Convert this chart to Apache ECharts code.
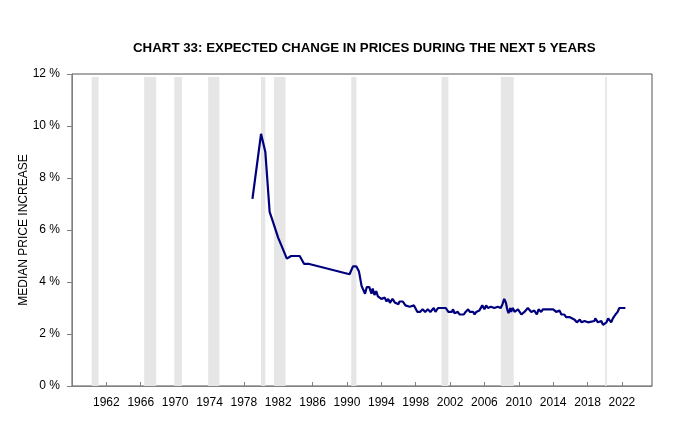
<!DOCTYPE html>
<html>
<head>
<meta charset="utf-8">
<script src="https://cdn.jsdelivr.net/npm/echarts@6/dist/echarts.min.js"></script>
<style>
  html, body { margin: 0; padding: 0; background: #fff; }
  #chart { width: 680px; height: 437px; }
</style>
</head>
<body>
<div id="chart"></div>
<script>
// survey dates (decimal years) and median expected price increase, %
var dates = [
  1979.0, 1980.0, 1980.5, 1981.0, 1981.4, 1982.0, 1982.5, 1983.0, 1983.5, 1984.5,
  1985.0, 1985.5, 1990.3, 1990.7, 1991.1, 1991.4, 1991.7, 1992.1, 1992.3, 1992.6,
  1992.85, 1993.0, 1993.2, 1993.4, 1993.6, 1993.8, 1994.0, 1994.4, 1994.6, 1994.8,
  1995.0, 1995.2, 1995.3, 1995.6, 1996.0, 1996.1, 1996.5, 1996.8, 1997.0, 1997.3,
  1997.8, 1998.2, 1998.5, 1998.8, 1999.1, 1999.4, 1999.7, 2000.1, 2000.3, 2000.6,
  2001.5, 2001.8, 2002.2, 2002.35, 2002.5, 2002.7, 2002.9, 2003.1, 2003.6, 2003.8,
  2004.1, 2004.3, 2004.7, 2004.85, 2005.05, 2005.4, 2005.75, 2006.0, 2006.2, 2006.4,
  2006.75, 2007.15, 2007.55, 2007.9, 2008.1, 2008.3, 2008.5, 2008.65, 2008.8, 2009.0,
  2009.1, 2009.3, 2009.5, 2009.9, 2010.1, 2010.3, 2010.65, 2011.05, 2011.45, 2011.8,
  2012.1, 2012.3, 2012.6, 2012.8, 2014.0, 2014.35, 2014.75, 2014.95, 2015.3, 2015.5,
  2015.9, 2016.5, 2016.75, 2017.1, 2017.3, 2017.65, 2018.05, 2018.2, 2018.8, 2018.9,
  2019.2, 2019.6, 2019.8, 2020.0, 2020.2, 2020.4, 2020.55, 2020.75, 2020.95, 2021.25,
  2021.5, 2021.7, 2022.4
];
var expected = [
  7.2, 9.7, 9.0, 6.7, 6.3, 5.7, 5.3, 4.9, 5.0, 5.0,
  4.7, 4.7, 4.3, 4.6, 4.6, 4.4, 3.85, 3.55, 3.8, 3.8,
  3.55, 3.75, 3.5, 3.65, 3.45, 3.5, 3.35, 3.4, 3.25, 3.35,
  3.2, 3.2, 3.35, 3.2, 3.15, 3.25, 3.25, 3.1, 3.15, 3.05,
  3.1, 2.85, 2.85, 2.95, 2.85, 2.95, 2.85, 3.0, 2.85, 3.0,
  3.0, 2.85, 2.85, 2.95, 2.8, 2.75, 2.85, 2.75, 2.75, 2.85,
  2.95, 2.85, 2.85, 2.75, 2.85, 2.9, 3.1, 2.95, 3.1, 3.0,
  3.05, 3.0, 3.05, 3.0, 3.15, 3.35, 3.2, 2.95, 2.8, 3.0,
  2.85, 3.0, 2.85, 2.95, 2.85, 2.75, 2.85, 3.0, 2.85, 2.9,
  2.75, 2.95, 2.85, 2.95, 2.95, 2.85, 2.9, 2.75, 2.75, 2.65,
  2.65, 2.55, 2.45, 2.55, 2.45, 2.5, 2.45, 2.5, 2.5, 2.6,
  2.45, 2.5, 2.35, 2.3, 2.45, 2.6, 2.55, 2.45, 2.6, 2.75,
  2.85, 3.0, 3.0
];

// recession shading
var recStart = [1960.3, 1966.4, 1969.9, 1973.85, 1980.0, 1981.5, 1990.5, 2001.0, 2007.9, 2020.05];
var recEnd   = [1961.1, 1967.8, 1970.8, 1975.15, 1980.5, 1982.85, 1991.1, 2001.8, 2009.4, 2020.25];

var yTicks = [0, 2, 4, 6, 8, 10, 12];

var myChart = echarts.init(document.getElementById('chart'))

var lineData = []
for (var i = 0; i < dates.length; i++) {
  lineData.push([dates[i], expected[i]])
}
var bands = []
for (var j = 0; j < recStart.length; j++) {
  bands.push([{xAxis: recStart[j], yAxis: 0}, {xAxis: recEnd[j], yAxis: 11.88}])
}

var option = {
  animation: false,
  textStyle: { fontFamily: 'Liberation Sans, Arial, sans-serif' },
  title: {
    text: 'CHART 33: EXPECTED CHANGE IN PRICES DURING THE NEXT 5 YEARS',
    left: 128,
    top: 37,
    textStyle: { fontSize: 13.3, fontWeight: 'bold', color: '#000' }
  },
  grid: {
    left: 72, right: 28, top: 74, bottom: 51,
    show: true, borderColor: '#555', borderWidth: 1
  },
  xAxis: {
    type: 'value',
    min: 1958,
    max: 2025.5,
    interval: 4,
    axisLine: { lineStyle: { color: '#808080' } },
    axisTick: { inside: true, length: 4, lineStyle: { color: '#808080' } },
    axisLabel: {
      color: '#000', fontSize: 12, margin: 11,
      showMinLabel: false, showMaxLabel: false,
      formatter: function (v) {
        return (v >= 1962 && v <= 2022 && (v - 1962) % 4 === 0) ? String(v) : ''
      }
    },
    splitLine: { show: false }
  },
  yAxis: {
    type: 'value',
    min: yTicks[0],
    max: yTicks[yTicks.length - 1],
    interval: 2,
    name: 'MEDIAN PRICE INCREASE',
    nameLocation: 'middle',
    nameGap: 42,
    nameMoveOverlap: false,
    nameTextStyle: { color: '#000', fontSize: 12 },
    axisLine: { show: true, lineStyle: { color: '#808080' } },
    axisTick: { show: true, length: 5, lineStyle: { color: '#808080' } },
    axisLabel: { color: '#000', fontSize: 12, margin: 12, formatter: '{value} %' },
    splitLine: { show: false }
  },
  series: [{
    type: 'line',
    data: lineData,
    showSymbol: false,
    lineStyle: { color: '#00007f', width: 2.2 },
    markArea: {
      silent: true,
      itemStyle: { color: '#e6e6e6' },
      data: bands
    }
  }]
};

myChart.setOption(option)
</script>
</body>
</html>
